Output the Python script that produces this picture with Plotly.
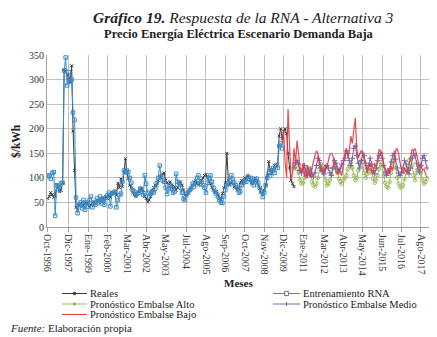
import pandas as pd
import plotly.graph_objects as go

# monthly series, first month Oct-1996
start = "1996-10-01"

reales = [58, 62, 70, 66, 60, 62, 85, 80, 72, 75, 90,
          320, 318, 310, 300, 295, 328, 195, 115, 40, 35,
          45, 48, 42, 45, 50, 48, 47, 40, 45, 50, 52, 47, 55, 50, 58, 52, 60, 55, 62, 58, 65, 60, 70, 68, 72, 65,
          89, 80, 98, 82, 110, 139, 112, 99, 85, 79, 69, 66, 62, 68,
          72, 78, 79, 70, 62, 58, 51, 55, 62, 75, 80, 85,
          85, 95, 100, 105, 108, 110, 95, 90, 88, 92, 85, 80, 82, 75, 80, 90, 92, 85, 75, 65, 63,
          70, 75, 80, 85, 92, 95, 88, 85, 90, 95, 100, 105, 107, 100, 92, 88, 80,
          75, 70, 72, 65, 58, 55, 68, 80, 90, 150, 95, 85, 90, 88, 82,
          80, 75, 78, 90, 95, 92, 100, 98, 105, 100, 95, 88, 92, 100, 95, 85, 78, 70, 68, 75,
          85, 105, 133, 115, 108, 118, 125, 122, 128, 185, 200, 180, 195, 200, 190, 150, 120, 95, 88, 82]

entrenamiento = [105, 103, 98, 110, 112, 23, 85, 82, 75, 89, 90,
                 318, 345, 288, 315, 296, 300, 233, 218, 60, 28,
                 45, 50, 38, 55, 35, 50, 42, 55, 62, 40, 48, 45, 58, 50, 62, 48, 55, 45, 60, 65, 70, 42, 68, 70, 72, 40,
                 55, 65, 68, 92, 115, 112, 115, 112, 100, 90, 75, 72, 65, 68,
                 70, 78, 72, 65, 105, 88, 70, 62, 68, 72, 70, 78,
                 90, 100, 125, 102, 95, 92, 80, 67, 77, 85, 78, 70, 72, 108, 92, 90, 80, 70, 57, 55, 67,
                 70, 75, 78, 88, 82, 90, 100, 105, 88, 92, 85, 80, 70, 90, 100, 105, 92,
                 80, 72, 68, 62, 55, 50, 49, 62, 75, 85, 88, 95, 105, 98, 90,
                 85, 80, 70, 72, 85, 90, 95, 92, 102, 98, 100, 90, 85, 95, 98, 90, 80, 72, 61, 70,
                 85, 100, 110, 105, 115, 120, 110, 125, 120, 165, 170, 160]

# forecasts
bajo_start = "2009-11-01"
bajo = [170, 195, 130, 100, 240, 150, 95, 110, 160, 130, 176, 150, 120, 110, 130, 105, 100, 125, 115, 100,
        120, 130, 145, 155, 150, 125, 112, 118, 110, 127, 120, 135, 148, 150, 145, 130, 112, 108, 118, 110,
        105, 125, 150, 160, 140, 155, 185, 170, 200, 222, 160, 140, 150, 155, 150, 135, 125, 110, 123, 130,
        112, 108, 130, 120, 140, 158, 155, 150, 130, 118, 110, 120, 108, 125, 115, 135, 155, 160, 150, 130,
        115, 108, 120, 112, 110, 125, 145, 158, 155, 160, 150, 130, 120, 128, 115, 118, 110, 100]

esc_start = "2010-07-01"
alto = [128, 125, 118, 110, 95, 88, 90, 100, 112, 120, 118, 105, 92, 85, 82, 88, 100, 118, 128, 125,
        110, 95, 85, 88, 95, 108, 120, 130, 125, 110, 98, 92, 88, 95, 100, 105, 118, 125, 130, 120,
        105, 95, 100, 115, 130, 135, 125, 110, 100, 108, 112, 120, 110, 98, 90, 95, 105, 118, 132, 125,
        105, 90, 82, 80, 92, 110, 135, 140, 120, 100, 88, 82, 80, 85, 98, 110, 118, 135, 140, 125,
        105, 95, 110, 125, 128, 110, 95, 88, 92, 98]

medio = [120, 130, 135, 128, 115, 110, 118, 125, 112, 105, 110, 118, 108, 102, 110, 125, 140, 135, 120, 112,
         108, 118, 125, 120, 110, 105, 120, 135, 130, 118, 112, 120, 128, 135, 140, 155, 150, 135, 125, 140,
         160, 165, 145, 130, 120, 135, 150, 145, 130, 118, 125, 140, 128, 115, 108, 120, 135, 145, 150, 140,
         125, 112, 105, 110, 118, 132, 145, 150, 138, 120, 110, 105, 112, 120, 135, 128, 115, 108, 120, 140,
         150, 145, 130, 118, 112, 125, 140, 145, 135, 120]

tick_dates = ["1996-10-01", "1997-12-01", "1999-01-01", "2000-02-01", "2001-03-01", "2002-04-01",
              "2003-05-01", "2004-07-01", "2005-08-01", "2006-09-01", "2007-10-01", "2008-11-01",
              "2009-12-01", "2011-01-01", "2012-03-01", "2013-04-01", "2014-05-01", "2015-06-01",
              "2016-07-01", "2017-08-01"]
tick_text = ["Oct-1996", "Dic-1997", "Ene-1999", "Feb-2000", "Mar-2001", "Abr-2002", "May-2003",
             "Jul-2004", "Ago-2005", "Sep-2006", "Oct-2007", "Nov-2008", "Dic-2009", "Ene-2011",
             "Mar-2012", "Abr-2013", "May-2014", "Jun-2015", "Jul-2016", "Ago-2017"]


def months(first, n):
    return pd.date_range(first, periods=n, freq="MS")


FONT = "Liberation Serif, Times New Roman, serif"
C_REAL = "#3a3a3a"
C_ENT = "#3b8dcc"
C_ALTO = "#9bbb59"
C_MEDIO = "#8064a2"
C_BAJO = "#e8363a"

fig = go.Figure()
fig.add_trace(go.Scatter(x=months(start, len(reales)), y=reales, mode="lines+markers",
                         line=dict(color=C_REAL, width=1),
                         marker=dict(symbol="x-thin", size=3, line=dict(color=C_REAL, width=1))))
fig.add_trace(go.Scatter(x=months(start, len(entrenamiento)), y=entrenamiento, mode="lines+markers",
                         line=dict(color=C_ENT, width=1),
                         marker=dict(symbol="square-open", size=3.5, color=C_ENT, line=dict(width=1))))
fig.add_trace(go.Scatter(x=months(esc_start, len(alto)), y=alto, mode="lines+markers",
                         line=dict(color=C_ALTO, width=1),
                         marker=dict(symbol="circle-open", size=3.5, color=C_ALTO, line=dict(width=1))))
fig.add_trace(go.Scatter(x=months(esc_start, len(medio)), y=medio, mode="lines+markers",
                         line=dict(color=C_MEDIO, width=1),
                         marker=dict(symbol="cross-thin", size=4, line=dict(color=C_MEDIO, width=1))))
fig.add_trace(go.Scatter(x=months(bajo_start, len(bajo)), y=bajo, mode="lines",
                         line=dict(color=C_BAJO, width=1.2), opacity=0.9))

# the page body adds an 8px offset, so the figure is drawn 8px smaller
OFF = 8
W, H = 437 - OFF, 337 - OFF
L, R, T, B = 47 - OFF, 7, 55 - OFF, 110
pw, ph = W - L - R, H - T - B


def px(x):
    return (x - OFF - L) / pw


def py(y):
    return (H - B - (y - OFF)) / ph


ann = [
    dict(text="<b><i>Gráfico 19.</i></b><i> Respuesta de la RNA - Alternativa 3</i>",
         x=px(243), y=py(17), font=dict(size=15.5)),
    dict(text="<b>Precio Energía Eléctrica Escenario Demanda Baja</b>",
         x=px(239), y=py(34), font=dict(size=12.5)),
    dict(text="<b>$/kWh</b>", x=px(16), y=py(141), textangle=-90, font=dict(size=11.5)),
    dict(text="<b>Meses</b>", x=px(238), y=py(283), font=dict(size=11)),
    dict(text="<i>Fuente:</i> Elaboración propia", x=px(8), y=py(328), xanchor="left",
         font=dict(size=11)),
]

# hand-made legend (two columns, tight rows)
legend_items = [
    ("Reales", C_REAL, 62, 87, 293.5, "dot"),
    ("Entrenamiento RNA", C_ENT, 273, 300, 293.5, "sq"),
    ("Pronóstico Embalse Alto", C_ALTO, 62, 87, 304, "dot"),
    ("Pronóstico Embalse Medio", C_MEDIO, 273, 300, 304, "tick"),
    ("Pronóstico Embalse Bajo", C_BAJO, 62, 87, 314.5, None),
]
shapes = []
for name, col, x0, x1, yy, mk in legend_items:
    shapes.append(dict(type="line", xref="paper", yref="paper", x0=px(x0), x1=px(x1),
                       y0=py(yy), y1=py(yy), line=dict(color=col, width=1)))
    xm = px((x0 + x1) / 2)
    if mk == "sq":
        shapes.append(dict(type="rect", xref="paper", yref="paper", xsizemode="pixel",
                           ysizemode="pixel", xanchor=xm, yanchor=py(yy), x0=-2, x1=2, y0=-2, y1=2,
                           line=dict(color=col, width=1), fillcolor="white"))
    elif mk == "dot":
        shapes.append(dict(type="circle", xref="paper", yref="paper", xsizemode="pixel",
                           ysizemode="pixel", xanchor=xm, yanchor=py(yy), x0=-1.3, x1=1.3, y0=-1.3,
                           y1=1.3, line=dict(color=col, width=1), fillcolor=col))
    elif mk == "tick":
        shapes.append(dict(type="line", xref="paper", yref="paper", xsizemode="pixel",
                           ysizemode="pixel", xanchor=xm, yanchor=py(yy), x0=0, x1=0, y0=-2, y1=2,
                           line=dict(color=col, width=1)))
    ann.append(dict(text=name, x=px(x1 + 1), y=py(yy), xanchor="left", font=dict(size=10.5)))

for a in ann:
    a.setdefault("xref", "paper")
    a.setdefault("yref", "paper")
    a.setdefault("showarrow", False)
    a.setdefault("xanchor", "center")
    a.setdefault("yanchor", "middle")

fig.update_layout(
    width=W, height=H,
    margin=dict(l=L, r=R, t=T, b=B),
    paper_bgcolor="white", plot_bgcolor="white",
    font=dict(family=FONT, color="#222", size=10),
    showlegend=False,
    annotations=ann,
    shapes=shapes,
    xaxis=dict(type="date", range=["1996-09-16", "2018-02-01"],
               tickvals=tick_dates, ticktext=tick_text, tickangle=90,
               showgrid=True, gridcolor="#c0c0c0", gridwidth=1,
               showline=True, linecolor="#a0a0a0", linewidth=1,
               ticks="outside", ticklen=4, tickcolor="#a0a0a0",
               tickfont=dict(size=10, color="#333"), zeroline=False),
    yaxis=dict(range=[0, 350], dtick=50, showgrid=True, gridcolor="#c0c0c0", gridwidth=1,
               showline=True, linecolor="#a0a0a0", linewidth=1,
               tickfont=dict(size=10, color="#333"), zeroline=False, ticks="", ticklen=0),
)

fig.write_html("out.html")
